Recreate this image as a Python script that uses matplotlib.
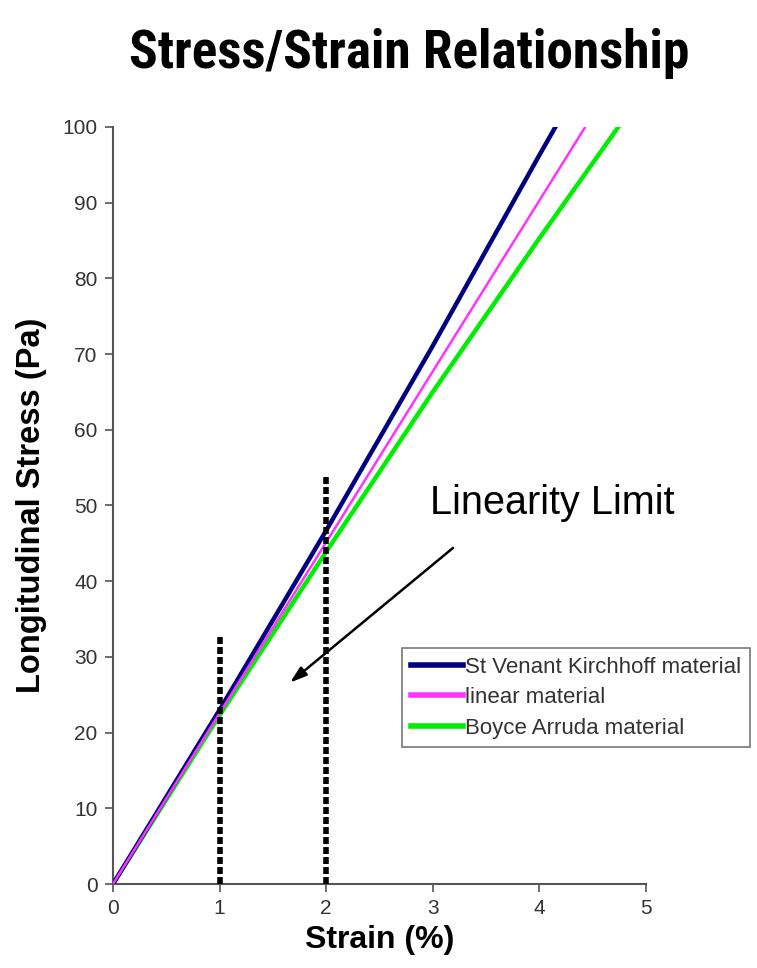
import matplotlib
matplotlib.use("Agg")
import matplotlib.pyplot as plt
from matplotlib import font_manager
from matplotlib.lines import Line2D

# ---- data ----
strain_svk = [0, 1, 2, 3, 4, 4.15]
stress_svk = [0, 23.0, 46.7, 71.1, 96.3, 100]
strain_lin = [0, 4.43]
stress_lin = [0, 100]
strain_ba = [0, 1, 2, 3, 4, 4.74]
stress_ba = [0, 22.3, 43.9, 65.0, 85.3, 100]
limit_x = [1, 2]
limit_top = [33, 54]
series_names = ["St Venant Kirchhoff material", "linear material", "Boyce Arruda material"]
x_ticks = [0, 1, 2, 3, 4, 5]
y_ticks = [0, 10, 20, 30, 40, 50, 60, 70, 80, 90, 100]

fonts = font_manager.fontManager.ttflist
names = {f.name for f in fonts}
body = "Liberation Sans" if "Liberation Sans" in names else "DejaVu Sans"

# look for a condensed / narrow bold face for the title
title_prop = None
pref = ["Liberation Sans Narrow", "Roboto Condensed", "Open Sans Condensed",
        "DejaVu Sans Condensed", "Noto Sans Condensed", "Noto Sans ExtraCondensed"]
for p in pref:
    for f in fonts:
        if f.name == p and (f.weight in ("bold", 700) or str(f.weight) == "700"):
            title_prop = font_manager.FontProperties(fname=f.fname)
            break
    if title_prop:
        break
if title_prop is None:
    cands = [f for f in fonts if ("ondensed" in str(f.stretch) or "ondensed" in f.fname
                                  or "Narrow" in f.fname) and
             (str(f.weight) in ("700", "bold") or "Bold" in f.fname)]
    if cands:
        title_prop = font_manager.FontProperties(fname=cands[0].fname)
if title_prop is None:
    title_prop = font_manager.FontProperties(family=body, weight="bold")

fig = plt.figure(figsize=(7.57, 9.68), dpi=100)
ax = fig.add_axes([113/757, 84/968, 533/757, 757/968])

ax.plot(strain_svk, stress_svk, color="#000080", lw=3.2, label=series_names[0], zorder=3)
ax.plot(strain_lin, stress_lin, color="#ff33ff", lw=1.8, label=series_names[1], zorder=4)
ax.plot(strain_ba, stress_ba, color="#00ee00", lw=3.2, label=series_names[2], zorder=2)

for xv, top in zip(limit_x, limit_top):
    ax.plot([xv, xv], [0, top], color="black", lw=4, ls=(0, (1.25, 0.55)), zorder=5)

ax.set_xlim(0, 5)
ax.set_ylim(0, 100)
ax.set_xticks(x_ticks)
ax.set_yticks(y_ticks)
for s in ["top", "right"]:
    ax.spines[s].set_visible(False)
for s in ["left", "bottom"]:
    ax.spines[s].set_color("#555555")
    ax.spines[s].set_linewidth(1.5)
ax.tick_params(direction="out", length=6, width=1.2, color="#555555",
               labelsize=15, labelcolor="#333333", pad=5)
for lab in ax.get_xticklabels() + ax.get_yticklabels():
    lab.set_family(body)

ax.set_xlabel("Strain (%)", fontsize=23, fontweight="bold", family=body, labelpad=5)
ax.set_ylabel("Longitudinal Stress (Pa)", fontsize=23.5, fontweight="bold", family=body, labelpad=11)

ax.annotate("", xy=(1.66, 26.6), xytext=(3.19, 44.4),
            arrowprops=dict(arrowstyle="-|>,head_length=1.0,head_width=0.32",
                            color="black", lw=1.8, shrinkA=0, shrinkB=0))
ax.text(2.97, 50.3, "Linearity Limit", fontsize=28.5, family=body, va="center", ha="left")

handles = [Line2D([], [], color=c, lw=4) for c in ["#000080", "#ff33ff", "#00ee00"]]
leg = ax.legend(handles, series_names, loc="upper left", bbox_to_anchor=(402/757, 1 - 648/968),
                bbox_transform=fig.transFigure, prop={"family": body, "size": 16.0},
                frameon=True, fancybox=False, edgecolor="#555555", handlelength=2.35,
                handletextpad=0.1, borderpad=0.4, labelspacing=0.42, borderaxespad=0)
leg.get_frame().set_linewidth(1.2)
for t in leg.get_texts():
    t.set_color("#333333")

title = fig.text(409/757, 1 - 68/968, "Stress/Strain Relationship", fontproperties=title_prop,
                 fontsize=50, ha="center", va="baseline")
fig.canvas.draw()
w = title.get_window_extent().width
target = 562
if w > target:
    title.set_fontsize(50 * target / w)

fig.savefig("out.png", dpi=100)
